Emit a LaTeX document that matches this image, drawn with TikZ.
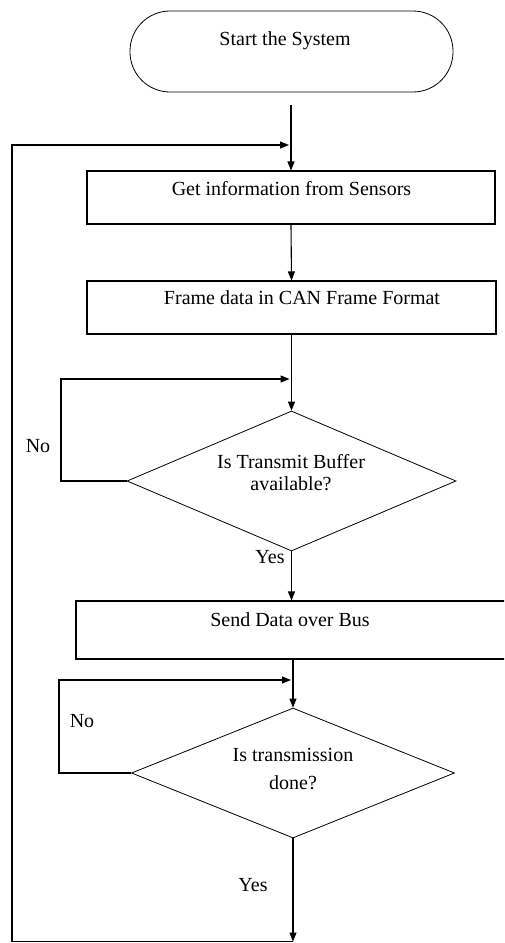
\documentclass[tikz,border=0pt]{standalone}
\usepackage{fontspec}
\setmainfont{Liberation Serif}
\usetikzlibrary{shapes.geometric,arrows.meta}
\begin{document}
\begin{tikzpicture}[x=1pt,y=-1pt,
  arr/.style={line width=1.1pt,-{Triangle[length=9pt,width=7pt]}},
  box/.style={draw,line width=1.1pt,minimum height=53pt,inner sep=0pt},
  dia/.style={draw,diamond,line width=0.8pt,inner sep=0pt},
  lbl/.style={font=\fontsize{20}{22}\selectfont,inner sep=0pt},
  txt/.style={font=\fontsize{20}{22}\selectfont,align=center,inner sep=0pt}]
\clip (0,0) rectangle (504,943);
% shapes
\node[draw,rounded corners=40pt,minimum width=323pt,minimum height=81pt,line width=0.8pt,inner sep=0pt] (start) at (291.5,51.5) {};
\node[txt] (startT) at (285,41) {Start the System};
\node[box,minimum width=408pt] (b1) at (291,197.5) {};
\node[txt] (b1T) at (291.5,189) {Get information from Sensors};
\node[box,minimum width=409pt] (b2) at (291.5,307.5) {};
\node[txt] (b2T) at (302,298) {Frame data in CAN Frame Format};
\node[dia,minimum width=329pt,minimum height=140pt] (d1) at (291.5,481) {};
\node[txt,font=\fontsize{20}{22}\selectfont] (d1T) at (291,473) {Is Transmit Buffer\\available?};
\node[box,minimum width=460pt,minimum height=58pt] (b3) at (306,630) {};
\node[txt] (b3T) at (290,620) {Send Data over Bus};
\node[dia,minimum width=323pt,minimum height=130pt] (d2) at (293,773) {};
\node[txt,font=\fontsize{20}{28}\selectfont] (d2T) at (293,769) {Is transmission\\done?};
% labels
\node[lbl] (no1) at (38,446) {No};
\node[lbl] (yes1) at (270,557) {Yes};
\node[lbl] (no2) at (82,721) {No};
\node[lbl] (yes2) at (253,885) {Yes};
% coordinates
\coordinate (s1) at (291,105);
\coordinate (n0) at (12,145);
\coordinate (m0) at (291,145);
\coordinate (n1) at (61,379);
\coordinate (m1) at (291.5,379);
\coordinate (n2) at (59,680);
\coordinate (m2) at (293,680);
\coordinate (bot) at (293,941.5);
% connectors
\draw[arr] (s1) -- (b1.north);
\draw[arr] (b1.south) -- (b2.north);
\draw[arr] (b2.south) -- (d1.north);
\draw[arr] (d1.south) -- (d1.south |- b3.north);
\draw[arr] (d2.north |- b3.south) -- (d2.north);
\draw[arr] (d2.south) -- (bot);
\draw[arr,shorten >=2pt] (d1.west) -| (n1) -- (m1);
\draw[arr,shorten >=2pt] (d2.west) -| (n2) -- (m2);
\draw[arr,shorten >=2pt] (bot) -| (n0) -- (m0);
\end{tikzpicture}
\end{document}
